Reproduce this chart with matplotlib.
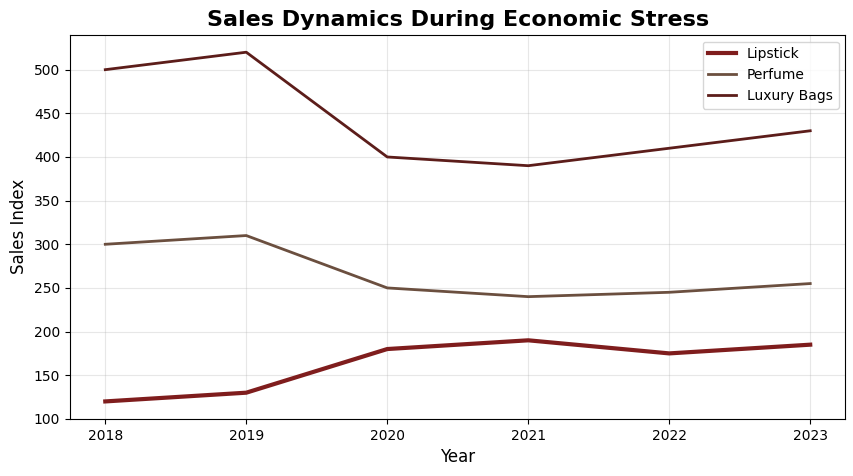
import matplotlib
matplotlib.use("Agg")
import matplotlib.pyplot as plt

years = [2018, 2019, 2020, 2021, 2022, 2023]
lipstick = [120, 130, 180, 190, 175, 185]
perfume = [300, 310, 250, 240, 245, 255]
luxury_bags = [500, 520, 400, 390, 410, 430]

fig, ax = plt.subplots(figsize=(8.54, 4.76), dpi=100)
ax.plot(years, lipstick, color="#7f1d1d", linewidth=3, label="Lipstick")
ax.plot(years, perfume, color="#6b4f3f", linewidth=2, label="Perfume")
ax.plot(years, luxury_bags, color="#5c1d1a", linewidth=2, label="Luxury Bags")
ax.set_title("Sales Dynamics During Economic Stress", fontsize=16, fontweight="bold")
ax.set_xlabel("Year", fontsize=12)
ax.set_ylabel("Sales Index", fontsize=12)
ax.set_xticks(years)
ax.grid(True, alpha=0.3)
ax.legend(loc="upper right")
fig.subplots_adjust(left=0.082, right=0.99, top=0.927, bottom=0.12)
fig.savefig("out.png", dpi=100)
